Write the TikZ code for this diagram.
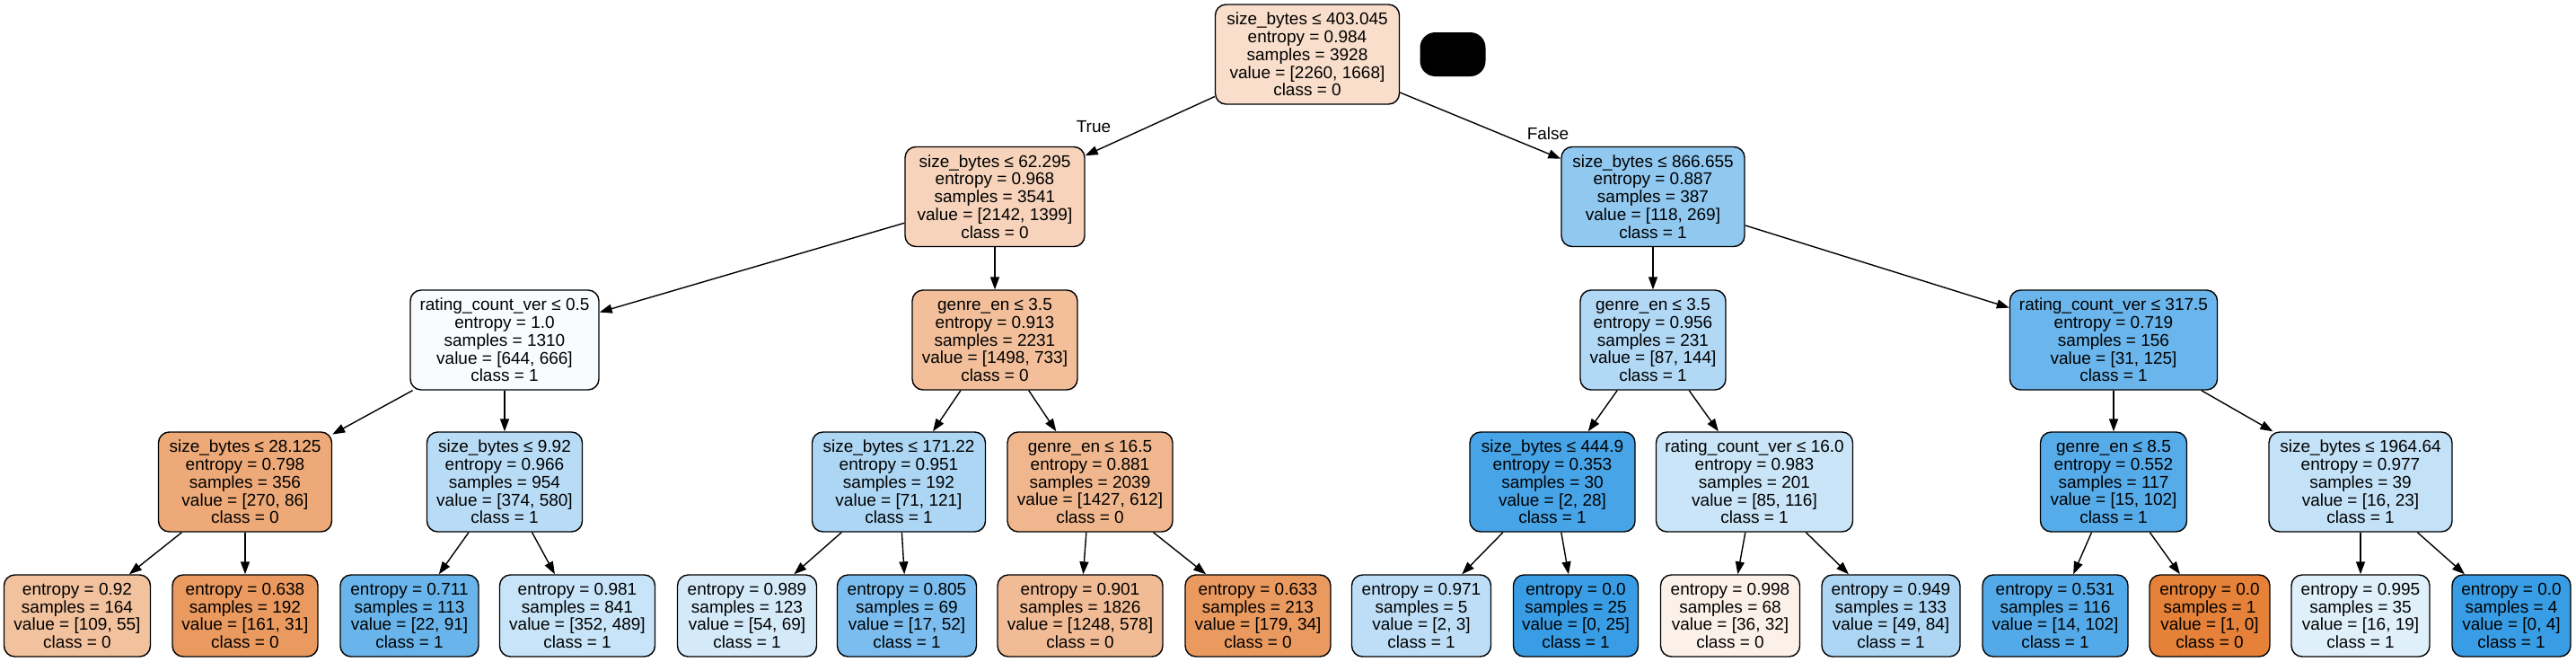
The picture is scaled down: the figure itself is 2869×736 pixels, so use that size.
\documentclass[tikz,border=0pt]{standalone}
\usepackage{fontspec}
\setmainfont{Liberation Sans}
\usetikzlibrary{arrows.meta}
\newcommand{\nodefnt}{\fontsize{19pt}{19.8pt}\selectfont}
\definecolor{cA}{RGB}{248,222,203}
\definecolor{cB}{RGB}{246,211,186}
\definecolor{cC}{RGB}{144,200,240}
\definecolor{cD}{RGB}{248,252,254}
\definecolor{cE}{RGB}{242,191,154}
\definecolor{cF}{RGB}{177,216,245}
\definecolor{cG}{RGB}{106,181,235}
\definecolor{cH}{RGB}{237,169,120}
\definecolor{cI}{RGB}{185,220,246}
\definecolor{cJ}{RGB}{173,214,244}
\definecolor{cK}{RGB}{240,183,142}
\definecolor{cL}{RGB}{71,164,231}
\definecolor{cM}{RGB}{202,229,248}
\definecolor{cN}{RGB}{86,171,233}
\definecolor{cO}{RGB}{195,225,247}
\definecolor{q1}{RGB}{242,193,157}
\definecolor{q2}{RGB}{234,153,95}
\definecolor{q3}{RGB}{105,181,235}
\definecolor{q4}{RGB}{200,228,248}
\definecolor{q5}{RGB}{212,234,249}
\definecolor{q6}{RGB}{122,189,238}
\definecolor{q7}{RGB}{241,187,149}
\definecolor{q8}{RGB}{234,153,95}
\definecolor{q9}{RGB}{189,222,246}
\definecolor{q10}{RGB}{57,157,229}
\definecolor{q11}{RGB}{252,241,233}
\definecolor{q12}{RGB}{173,214,244}
\definecolor{q13}{RGB}{84,170,233}
\definecolor{q14}{RGB}{229,129,57}
\definecolor{q15}{RGB}{224,240,251}
\definecolor{q16}{RGB}{57,157,229}
\tikzset{
  tn/.style={draw=black, line width=1.4pt, rounded corners=12pt, align=center,
    inner sep=0pt, minimum height=111pt, font=\nodefnt},
  lf/.style={tn, minimum height=91pt},
  conn/.style={-{Triangle[length=14pt,width=10pt]}, line width=1.4pt},
  elabel/.style={font=\nodefnt, inner sep=0pt}
}
\begin{document}
\begin{tikzpicture}[x=1pt,y=-1pt]
\useasboundingbox[fill=white] (0,0) rectangle (2869,736);
% root and level 1
\node[tn, fill=cA, minimum width=205pt] (n0) at (1456,60.5) {size\_bytes ≤ 403.045\\entropy = 0.984\\samples = 3928\\value = [2260, 1668]\\class = 0};
\node[fill=black, rounded corners=17pt, minimum width=73pt, minimum height=49pt, inner sep=0pt] (blk) at (1618,60.5) {};
\node[tn, fill=cB, minimum width=200pt] (n1) at (1108,219) {size\_bytes ≤ 62.295\\entropy = 0.968\\samples = 3541\\value = [2142, 1399]\\class = 0};
\node[tn, fill=cC, minimum width=204pt] (n2) at (1841,219) {size\_bytes ≤ 866.655\\entropy = 0.887\\samples = 387\\value = [118, 269]\\class = 1};
% level 2
\node[tn, fill=cD, minimum width=210pt] (n3) at (562,378.5) {rating\_count\_ver ≤ 0.5\\entropy = 1.0\\samples = 1310\\value = [644, 666]\\class = 1};
\node[tn, fill=cE, minimum width=184pt] (n4) at (1108,378.5) {genre\_en ≤ 3.5\\entropy = 0.913\\samples = 2231\\value = [1498, 733]\\class = 0};
\node[tn, fill=cF, minimum width=162pt] (n5) at (1841,378.5) {genre\_en ≤ 3.5\\entropy = 0.956\\samples = 231\\value = [87, 144]\\class = 1};
\node[tn, fill=cG, minimum width=231pt] (n6) at (2354,378.5) {rating\_count\_ver ≤ 317.5\\entropy = 0.719\\samples = 156\\value = [31, 125]\\class = 1};
% level 3
\node[tn, fill=cH, minimum width=193pt] (n7) at (273,536.5) {size\_bytes ≤ 28.125\\entropy = 0.798\\samples = 356\\value = [270, 86]\\class = 0};
\node[tn, fill=cI, minimum width=173pt] (n8) at (562,536.5) {size\_bytes ≤ 9.92\\entropy = 0.966\\samples = 954\\value = [374, 580]\\class = 1};
\node[tn, fill=cJ, minimum width=193pt] (n9) at (1001,536.5) {size\_bytes ≤ 171.22\\entropy = 0.951\\samples = 192\\value = [71, 121]\\class = 1};
\node[tn, fill=cK, minimum width=184pt] (n10) at (1214,536.5) {genre\_en ≤ 16.5\\entropy = 0.881\\samples = 2039\\value = [1427, 612]\\class = 0};
\node[tn, fill=cL, minimum width=184pt] (n11) at (1729,536.5) {size\_bytes ≤ 444.9\\entropy = 0.353\\samples = 30\\value = [2, 28]\\class = 1};
\node[tn, fill=cM, minimum width=219pt] (n12) at (1954,536.5) {rating\_count\_ver ≤ 16.0\\entropy = 0.983\\samples = 201\\value = [85, 116]\\class = 1};
\node[tn, fill=cN, minimum width=163pt] (n13) at (2354,536.5) {genre\_en ≤ 8.5\\entropy = 0.552\\samples = 117\\value = [15, 102]\\class = 1};
\node[tn, fill=cO, minimum width=204pt] (n14) at (2629,536.5) {size\_bytes ≤ 1964.64\\entropy = 0.977\\samples = 39\\value = [16, 23]\\class = 1};
% leaves
\node[lf, fill=q1, minimum width=163pt] (l1) at (86,685.5) {entropy = 0.92\\samples = 164\\value = [109, 55]\\class = 0};
\node[lf, fill=q2, minimum width=162pt] (l2) at (273,685.5) {entropy = 0.638\\samples = 192\\value = [161, 31]\\class = 0};
\node[lf, fill=q3, minimum width=154pt] (l3) at (456,685.5) {entropy = 0.711\\samples = 113\\value = [22, 91]\\class = 1};
\node[lf, fill=q4, minimum width=173pt] (l4) at (643,685.5) {entropy = 0.981\\samples = 841\\value = [352, 489]\\class = 1};
\node[lf, fill=q5, minimum width=155pt] (l5) at (832,685.5) {entropy = 0.989\\samples = 123\\value = [54, 69]\\class = 1};
\node[lf, fill=q6, minimum width=155pt] (l6) at (1010,685.5) {entropy = 0.805\\samples = 69\\value = [17, 52]\\class = 1};
\node[lf, fill=q7, minimum width=184pt] (l7) at (1203,685.5) {entropy = 0.901\\samples = 1826\\value = [1248, 578]\\class = 0};
\node[lf, fill=q8, minimum width=162pt] (l8) at (1401,685.5) {entropy = 0.633\\samples = 213\\value = [179, 34]\\class = 0};
\node[lf, fill=q9, minimum width=155pt] (l9) at (1583,685.5) {entropy = 0.971\\samples = 5\\value = [2, 3]\\class = 1};
\node[lf, fill=q10, minimum width=139pt] (l10) at (1755,685.5) {entropy = 0.0\\samples = 25\\value = [0, 25]\\class = 1};
\node[lf, fill=q11, minimum width=155pt] (l11) at (1927,685.5) {entropy = 0.998\\samples = 68\\value = [36, 32]\\class = 0};
\node[lf, fill=q12, minimum width=154pt] (l12) at (2106,685.5) {entropy = 0.949\\samples = 133\\value = [49, 84]\\class = 1};
\node[lf, fill=q13, minimum width=162pt] (l13) at (2289,685.5) {entropy = 0.531\\samples = 116\\value = [14, 102]\\class = 1};
\node[lf, fill=q14, minimum width=134pt] (l14) at (2461,685.5) {entropy = 0.0\\samples = 1\\value = [1, 0]\\class = 0};
\node[lf, fill=q15, minimum width=154pt] (l15) at (2629,685.5) {entropy = 0.995\\samples = 35\\value = [16, 19]\\class = 1};
\node[lf, fill=q16, minimum width=132pt] (l16) at (2797,685.5) {entropy = 0.0\\samples = 4\\value = [0, 4]\\class = 1};
% edge labels
\node[elabel] (lblT) at (1218,141) {True};
\node[elabel] (lblF) at (1724,149) {False};
% connectors
\draw[conn] (n0) -- (n1);
\draw[conn] (n0) -- (n2);
\draw[conn] (n1) -- (n3);
\draw[conn] (n1) -- (n4);
\draw[conn] (n2) -- (n5);
\draw[conn] (n2) -- (n6);
\draw[conn] (n3) -- (n7);
\draw[conn] (n3) -- (n8);
\draw[conn] (n4) -- (n9);
\draw[conn] (n4) -- (n10);
\draw[conn] (n5) -- (n11);
\draw[conn] (n5) -- (n12);
\draw[conn] (n6) -- (n13);
\draw[conn] (n6) -- (n14);
\draw[conn] (n7) -- (l1);
\draw[conn] (n7) -- (l2);
\draw[conn] (n8) -- (l3);
\draw[conn] (n8) -- (l4);
\draw[conn] (n9) -- (l5);
\draw[conn] (n9) -- (l6);
\draw[conn] (n10) -- (l7);
\draw[conn] (n10) -- (l8);
\draw[conn] (n11) -- (l9);
\draw[conn] (n11) -- (l10);
\draw[conn] (n12) -- (l11);
\draw[conn] (n12) -- (l12);
\draw[conn] (n13) -- (l13);
\draw[conn] (n13) -- (l14);
\draw[conn] (n14) -- (l15);
\draw[conn] (n14) -- (l16);
\end{tikzpicture}
\end{document}
